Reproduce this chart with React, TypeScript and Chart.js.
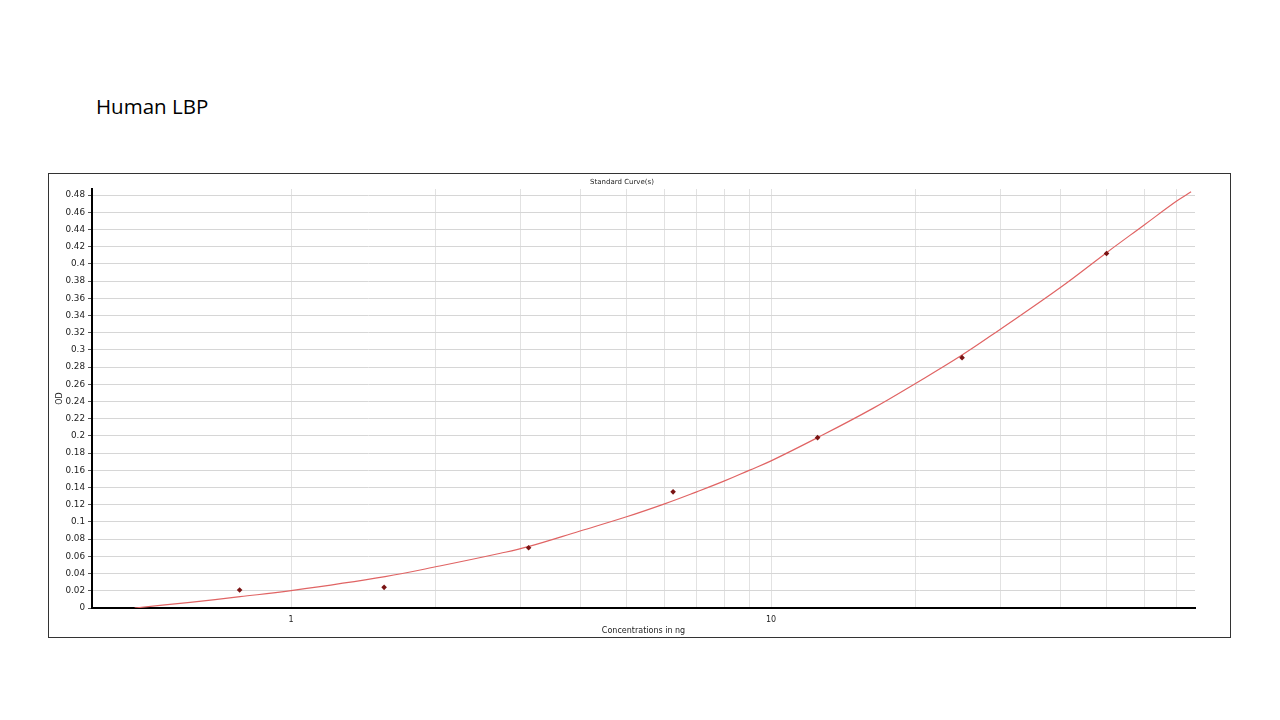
import { useEffect, useRef } from 'react';
import Chart from 'chart.js/auto';

// standards (ng) and measured OD
const stdConc = [0.78125, 1.5625, 3.125, 6.25, 12.5, 25, 50];
const stdOD = [0.021, 0.024, 0.07, 0.135, 0.198, 0.291, 0.412];

// fitted curve
const curveConc = [0.472, 0.616, 0.783, 1, 1.57, 2.04, 2.73, 3.12, 4, 5, 6, 7, 8, 9, 10, 12.5, 16.3, 20, 25, 30, 40, 50, 60, 70, 75];
const curveOD = [0, 0.0066, 0.0132, 0.0202, 0.0365, 0.0488, 0.0636, 0.0713, 0.0895, 0.106, 0.121, 0.135, 0.1477, 0.16, 0.171, 0.198, 0.232, 0.261, 0.294, 0.3238, 0.3722, 0.413, 0.4455, 0.473, 0.4837];

// grid / tick positions
const xTicks = [1, 2, 3, 4, 5, 6, 7, 8, 9, 10, 20, 30, 40, 50, 60, 70];
const xLabels = [1, 10];
const yTicks = [0, 0.02, 0.04, 0.06, 0.08, 0.1, 0.12, 0.14, 0.16, 0.18, 0.2, 0.22, 0.24, 0.26, 0.28, 0.3, 0.32, 0.34, 0.36, 0.38, 0.4, 0.42, 0.44, 0.46, 0.48];

const FONT = "'DejaVu Sans', sans-serif";

const StandardCurve = () => {
  const chartRef = useRef<HTMLCanvasElement>(null);

  useEffect(() => {
    if (!chartRef.current) return;

    const chartInstance = new Chart(chartRef.current, {
      type: 'scatter',
      data: {
        datasets: [
          {
            label: 'Standards',
            data: stdConc.map((x, i) => ({ x, y: stdOD[i] })),
            showLine: false,
            pointStyle: 'rectRot',
            pointRadius: 2.8,
            pointBackgroundColor: '#7a1414',
            pointBorderColor: '#7a1414',
            pointBorderWidth: 0,
          },
          {
            label: 'Fit',
            data: curveConc.map((x, i) => ({ x, y: curveOD[i] })),
            showLine: true,
            pointRadius: 0,
            borderColor: '#e06464',
            borderWidth: 1.2,
            tension: 0.4,
          },
        ],
      },
      options: {
        animation: false,
        responsive: false,
        layout: {
          padding: { top: 0, right: 35, bottom: 0, left: 0 },
        },
        plugins: {
          legend: { display: false },
          tooltip: { enabled: false },
          title: {
            display: true,
            text: 'Standard Curve(s)',
            color: '#222',
            font: { family: FONT, size: 7, weight: 'normal' },
            padding: { top: 3.5, bottom: 3.1 },
          },
        },
        scales: {
          x: {
            type: 'logarithmic',
            min: 0.3848,
            max: 76.43,
            afterBuildTicks: (scale: any) => {
              scale.ticks = xTicks.map((v) => ({ value: v }));
            },
            afterFit: (scale: any) => {
              scale.height = 29;
            },
            ticks: {
              autoSkip: false,
              maxRotation: 0,
              padding: 7,
              color: '#222',
              font: { family: FONT, size: 8 },
              callback: (v: any) => (xLabels.includes(Number(v)) ? String(v) : ''),
            },
            grid: {
              color: '#e2e2e2',
              lineWidth: 1,
              drawTicks: false,
            },
            border: { color: '#000', width: 2 },
            title: {
              display: true,
              text: 'Concentrations in ng',
              color: '#222',
              font: { family: FONT, size: 8 },
              padding: { top: 0, bottom: 1.2 },
            },
          },
          y: {
            type: 'linear',
            min: 0,
            max: 0.487,
            afterBuildTicks: (scale: any) => {
              scale.ticks = yTicks.map((v) => ({ value: v }));
            },
            afterFit: (scale: any) => {
              scale.width = 43;
            },
            ticks: {
              autoSkip: false,
              padding: 3,
              color: '#222',
              font: { family: FONT, size: 8.8 },
              callback: (v: any) => String(+Number(v).toFixed(2)),
            },
            grid: {
              color: '#d6d6d6',
              lineWidth: 1,
              drawTicks: true,
              tickLength: 4,
              tickColor: '#555',
            },
            border: { color: '#000', width: 2 },
            title: {
              display: true,
              text: 'OD',
              color: '#222',
              font: { family: FONT, size: 8 },
              padding: { top: 6, bottom: 0 },
            },
          },
        },
      },
    });

    return () => {
      chartInstance.destroy();
    };
  }, []);

  return (
    <div
      style={{
        position: 'absolute',
        left: 48,
        top: 173,
        width: 1183,
        height: 465,
        boxSizing: 'border-box',
        border: '1px solid #333',
        background: '#fff',
      }}
    >
      <canvas ref={chartRef} width={1181} height={463} style={{ display: 'block', width: 1181, height: 463 }}></canvas>
    </div>
  );
};

const App = () => {
  return (
    <div style={{ position: 'absolute', left: 0, top: 0, width: 1280, height: 720, background: '#fff', overflow: 'hidden' }}>
      <div
        style={{
          position: 'absolute',
          left: 96,
          top: 96,
          fontFamily: "'Open Sans', sans-serif",
          fontSize: 20.5,
          lineHeight: '20px',
          color: '#000',
          whiteSpace: 'nowrap',
        }}
      >
        Human LBP
      </div>
      <StandardCurve />
    </div>
  );
};

export default App;
